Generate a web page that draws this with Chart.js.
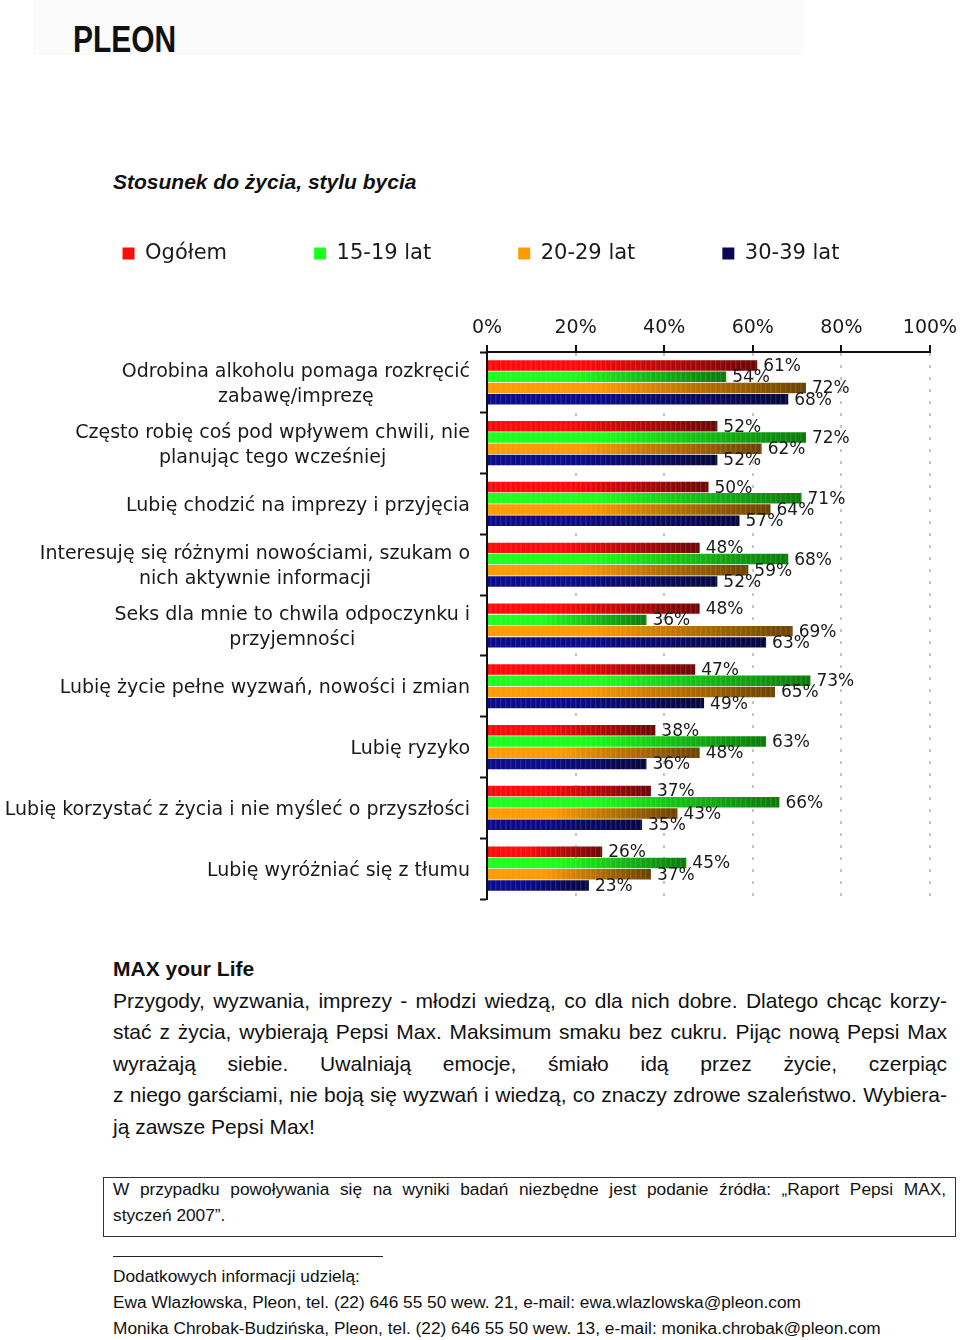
<!DOCTYPE html>
<html lang="pl">
<head>
<meta charset="UTF-8">
<title>Stosunek do życia, stylu bycia</title>
<script src="https://cdn.jsdelivr.net/npm/chart.js"></script>
<style>
  body { margin: 0; background: #fff; width: 960px; height: 1340px; position: relative; overflow: hidden; font-family: "Liberation Sans", Arial, sans-serif; color: #111; }
  .abs { position: absolute; }
  #topbar { left: 33px; top: 0; width: 770px; height: 55px; background: #fbfbfb; }
  #logo { left: 73px; top: 18px; font: bold 37px "Liberation Sans", Arial, sans-serif; transform: scaleX(0.81); transform-origin: left top; color: #111; line-height: 44px; }
  #tytul { left: 113px; top: 170px; font: italic bold 21px "Liberation Sans", Arial, sans-serif; }
  #wykres { left: 0; top: 156px; width: 960px; height: 757px; }
  #tekst { left: 113px; top: 953px; width: 834px; font-size: 21px; }
  #tekst .l { height: 31.6px; line-height: 31.6px; text-align: justify; text-align-last: justify; white-space: nowrap; }
  #tekst .last { text-align-last: left; }
  #ramka { left: 103px; top: 1177px; width: 853px; height: 60px; border: 1.5px solid #333; box-sizing: border-box; font-size: 17.3px; }
  #ramka .l { position: absolute; left: 9px; width: 833px; text-align: justify; text-align-last: justify; white-space: nowrap; }
  #kreska { left: 113px; top: 1256px; width: 270px; height: 1px; background: #222; }
  .kontakt { left: 113px; font-size: 17.3px; white-space: nowrap; }
</style>
</head>
<body>
<div class="abs" id="topbar"></div>
<div class="abs" id="logo">PLEON</div>
<div class="abs" id="tytul">Stosunek do życia, stylu bycia</div>

<div class="abs" id="wykres"><canvas id="graf"></canvas></div>

<div class="abs" id="tekst">
  <div class="l" style="font-weight:bold;text-align-last:left">MAX your Life</div>
  <div class="l">Przygody, wyzwania, imprezy - młodzi wiedzą, co dla nich dobre. Dlatego chcąc korzy-</div>
  <div class="l">stać z życia, wybierają Pepsi Max. Maksimum smaku bez cukru. Pijąc nową Pepsi Max</div>
  <div class="l">wyrażają siebie. Uwalniają emocje, śmiało idą przez życie, czerpiąc</div>
  <div class="l">z niego garściami, nie boją się wyzwań i wiedzą, co znaczy zdrowe szaleństwo. Wybiera-</div>
  <div class="l last">ją zawsze Pepsi Max!</div>
</div>

<div class="abs" id="ramka">
  <div class="l" style="top:1px">W przypadku powoływania się na wyniki badań niezbędne jest podanie źródła: „Raport Pepsi MAX,</div>
  <div class="l" style="top:27px;text-align-last:left">styczeń 2007”.</div>
</div>
<div class="abs" id="kreska"></div>
<div class="abs kontakt" style="top:1266px">Dodatkowych informacji udzielą:</div>
<div class="abs kontakt" style="top:1292px">Ewa Wlazłowska, Pleon, tel. (22) 646 55 50 wew. 21, e-mail: ewa.wlazlowska@pleon.com</div>
<div class="abs kontakt" style="top:1318px">Monika Chrobak-Budzińska, Pleon, tel. (22) 646 55 50 wew. 13, e-mail: monika.chrobak@pleon.com</div>

<script>
const kategorie = [
  ["Odrobina alkoholu pomaga rozkręcić", "zabawę/imprezę"],
  ["Często robię coś pod wpływem chwili, nie", "planując tego wcześniej"],
  ["Lubię chodzić na imprezy i przyjęcia"],
  ["Interesuję się różnymi nowościami, szukam o", "nich aktywnie informacji"],
  ["Seks dla mnie to chwila odpoczynku i", "przyjemności"],
  ["Lubię życie pełne wyzwań, nowości i zmian"],
  ["Lubię ryzyko"],
  ["Lubię korzystać z życia i nie myśleć o przyszłości"],
  ["Lubię wyróżniać się z tłumu"]
];
const serie = ["Ogółem", "15-19 lat", "20-29 lat", "30-39 lat"];
const ogolem = [61, 52, 50, 48, 48, 47, 38, 37, 26];
const lat1519 = [54, 72, 71, 68, 36, 73, 63, 66, 45];
const lat2029 = [72, 62, 64, 59, 69, 65, 48, 43, 37];
const lat3039 = [68, 52, 57, 52, 63, 49, 36, 35, 23];
const osTicki = [0, 20, 40, 60, 80, 100];

// kolory: jasny na poczatku slupka, ciemny na koncu
const kolory = [
  ["#ff0a0a", "#6e0606"],
  ["#1cff1c", "#0a7a0a"],
  ["#ff9a00", "#6a4200"],
  ["#0b0b8c", "#07073e"]
];

function gradient(i) {
  return (ctx) => {
    const solid = kolory[i][0];
    if (ctx.type !== "data") return solid;
    const chart = ctx.chart;
    if (!chart.chartArea || !chart.scales.x) return solid;
    const x0 = chart.scales.x.getPixelForValue(0);
    const x1 = chart.scales.x.getPixelForValue(ctx.raw);
    if (!isFinite(x0) || !isFinite(x1) || x1 <= x0) return solid;
    const g = chart.ctx.createLinearGradient(x0, 0, x1, 0);
    g.addColorStop(0, kolory[i][0]);
    g.addColorStop(0.35, kolory[i][0]);
    g.addColorStop(1, kolory[i][1]);
    return g;
  };
}

// paski i etykiety procentowe
const etykiety = {
  id: "etykiety",
  afterDatasetsDraw(chart) {
    const c = chart.ctx;
    c.save();
    chart.data.datasets.forEach((ds, di) => {
      chart.getDatasetMeta(di).data.forEach((el) => {
        const left = Math.min(el.base, el.x), w = Math.abs(el.x - el.base);
        const top = el.y - el.height / 2;
        c.fillStyle = "rgba(255,255,255,0.10)";
        for (let x = left + 2; x < left + w - 1; x += 5) c.fillRect(x, top, 1.5, el.height);
      });
    });
    c.font = "17px 'DejaVu Sans'";
    c.fillStyle = "#1a1a1a";
    c.textBaseline = "middle";
    c.textAlign = "left";
    chart.data.datasets.forEach((ds, di) => {
      chart.getDatasetMeta(di).data.forEach((el, i) => {
        c.fillText(ds.data[i] + "%", el.x + 6, el.y + 1);
      });
    });
    c.restore();
  }
};

// etykiety kategorii: blok wyrównany do prawej, wiersze wyśrodkowane
const kategorieRys = {
  id: "kategorieRys",
  afterDraw(chart) {
    const c = chart.ctx, y = chart.scales.y;
    c.save();
    c.font = "19px 'DejaVu Sans'";
    c.fillStyle = "#1a1a1a";
    c.textAlign = "center";
    c.textBaseline = "middle";
    const prawa = 470, wys = 25;
    kategorie.forEach((linie, i) => {
      const szer = Math.max(...linie.map(t => c.measureText(t).width));
      const cx = prawa - szer / 2;
      const cy = y.getPixelForValue(i) + 2;
      linie.forEach((t, k) => {
        c.fillText(t, cx, cy + (k - (linie.length - 1) / 2) * wys);
      });
    });
    c.restore();
  }
};

Chart.defaults.font.family = "'DejaVu Sans'";
Chart.defaults.color = "#1a1a1a";

const dane = [ogolem, lat1519, lat2029, lat3039];

new Chart(document.getElementById("graf"), {
  type: "bar",
  data: {
    labels: kategorie,
    datasets: serie.map((s, i) => ({
      label: s,
      data: dane[i],
      backgroundColor: gradient(i),
      borderWidth: 0,
      categoryPercentage: 0.74,
      barPercentage: 0.93
    }))
  },
  options: {
    indexAxis: "y",
    responsive: true,
    maintainAspectRatio: false,
    animation: false,
    layout: { padding: { left: 32, right: 30, top: 0, bottom: 14 } },
    plugins: {
      tooltip: { enabled: false },
      legend: {
        position: "top",
        labels: {
          boxWidth: 12,
          boxHeight: 12,
          padding: 87,
          font: { size: 21 },
          color: "#1a1a1a"
        }
      }
    },
    scales: {
      x: {
        position: "top",
        min: 0,
        max: 100,
        afterBuildTicks: (s) => { s.ticks = osTicki.map(v => ({ value: v })); },
        afterFit: (s) => { s.height = 78; s.paddingRight = 0; s.paddingLeft = 0; },
        ticks: {
          callback: (v) => v + "%",
          font: { size: 19 },
          padding: 6,
          color: "#1a1a1a"
        },
        grid: {
          color: (ctx) => ctx.index === 0 ? "rgba(0,0,0,0)" : "#c4c4c4",
          lineWidth: 2,
          tickColor: "#111",
          tickLength: 7,
          tickWidth: 2
        },
        border: { color: "#111", width: 2, dash: [3, 9] }
      },
      y: {
        afterFit: (s) => { s.width = 455; },
        ticks: { display: false },
        grid: {
          drawOnChartArea: false,
          tickColor: "#111",
          tickLength: 7,
          tickWidth: 2,
          offset: true
        },
        border: { color: "#111", width: 2 }
      }
    }
  },
  plugins: [etykiety, kategorieRys]
});
</script>
</body>
</html>
